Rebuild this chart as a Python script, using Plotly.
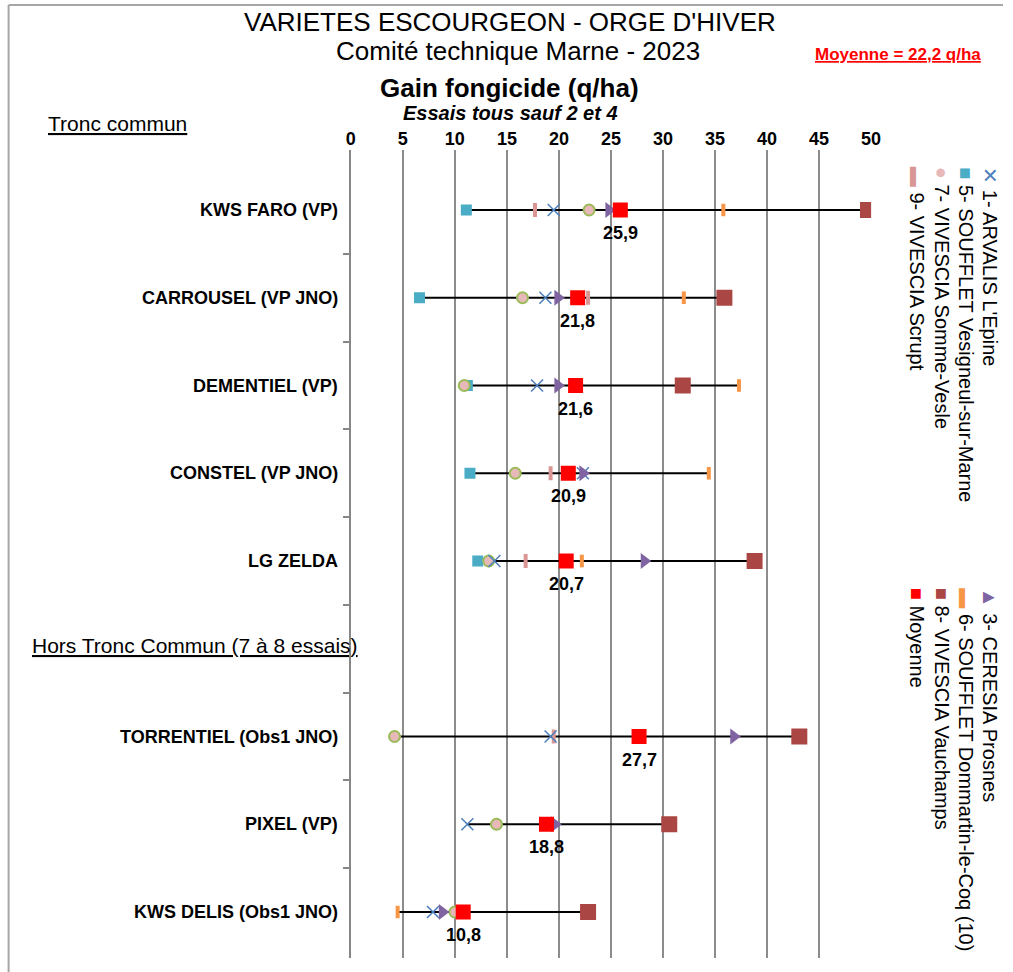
import plotly.graph_objects as go

# ---------------- data ----------------
categories = ["KWS FARO (VP)", "CARROUSEL (VP JNO)", "DEMENTIEL (VP)", "CONSTEL (VP JNO)",
              "LG ZELDA", "", "TORRENTIEL (Obs1 JNO)", "PIXEL (VP)", "KWS DELIS (Obs1 JNO)"]

arvalis_epine = [19.5, 18.7, 17.9, 22.3, 13.8, None, 19.2, 11.2, 7.9]
ceresia_prosnes = [24.8, 19.9, 19.9, 22.3, 28.2, None, 36.8, 19.6, 8.8]
soufflet_vesigneul = [11.1, 6.6, 11.2, 11.45, 12.2, None, None, None, None]
soufflet_dommartin = [35.8, 32.0, 37.3, 34.4, 22.2, None, None, None, 4.5]
vivescia_somme_vesle = [22.9, 16.5, 10.9, 15.8, 13.25, None, 4.2, 14.0, 10.0]
vivescia_vauchamps = [49.7, 35.9, 31.9, None, 38.8, None, 43.1, 30.6, 22.8]
vivescia_scrupt = [17.7, 22.8, 22.0, 19.2, 16.8, None, 19.5, None, 10.4]
moyenne = [25.9, 21.8, 21.6, 20.9, 20.7, None, 27.7, 18.8, 10.8]

x_ticks = [0, 5, 10, 15, 20, 25, 30, 35, 40, 45, 50]

names = {
    "a": "1- ARVALIS L'Epine",
    "c": "3- CERESIA Prosnes",
    "sv": "5- SOUFFLET Vesigneul-sur-Marne",
    "sd": "6- SOUFFLET Dommartin-le-Coq (10)",
    "vs": "7- VIVESCIA Somme-Vesle",
    "vv": "8- VIVESCIA Vauchamps",
    "vsc": "9- VIVESCIA Scrupt",
    "m": "Moyenne",
}

# ---------------- layout helpers ----------------
W, H = 1013, 972
XS, XO = 0.9846, 4.4  # empirical horizontal correction of the rendering
def px(x):
    return ((x - XO) / XS) / W
def py(y):
    return 1 - y / H

FONT = "Liberation Sans, Arial, sans-serif"
BLUE = "#4F81BD"
PURPLE = "#8064A2"
TEAL = "#4BACC6"
ORANGE = "#F79646"
GREEN = "#9BBB59"
PINKFILL = "#E6B9B8"
BROWN = "#AA4643"
PINK = "#D99694"
RED = "#FF0000"

ys = list(range(len(categories)))

fig = go.Figure()

# range lines (min to max of each row)
lx, ly = [], []
all_series = [arvalis_epine, ceresia_prosnes, soufflet_vesigneul, soufflet_dommartin,
              vivescia_somme_vesle, vivescia_vauchamps, vivescia_scrupt, moyenne]
for i in ys:
    vals = [s[i] for s in all_series if s[i] is not None]
    if vals:
        lx += [min(vals), max(vals), None]
        ly += [i, i, None]
fig.add_trace(go.Scatter(x=lx, y=ly, mode="lines", line=dict(color="black", width=1.8),
                         showlegend=False, hoverinfo="skip"))

def add(vals, name, marker):
    fig.add_trace(go.Scatter(x=vals, y=ys, mode="markers", name=name, marker=marker,
                             showlegend=False))

add(soufflet_vesigneul, names["sv"], dict(symbol="square", size=11, color=TEAL))
add(soufflet_dommartin, names["sd"], dict(symbol="line-ns", size=9, line=dict(color=ORANGE, width=4)))
add(vivescia_scrupt, names["vsc"], dict(symbol="line-ns", size=10, line=dict(color=PINK, width=4)))
add(vivescia_somme_vesle, names["vs"], dict(symbol="circle", size=11, color=PINKFILL,
                                             line=dict(color=GREEN, width=2)))
add(arvalis_epine, names["a"], dict(symbol="x-thin", size=12, line=dict(color=BLUE, width=1.6)))
add(ceresia_prosnes, names["c"], dict(symbol="triangle-right", size=14, color=PURPLE))
add(vivescia_vauchamps, names["vv"], dict(symbol="square", size=16, color=BROWN))
add(moyenne, names["m"], dict(symbol="square", size=15, color=RED))

annotations = []
# category labels
for i, c in enumerate(categories):
    if c:
        annotations.append(dict(x=px(339), xref="paper", y=i, yref="y", text="<b>%s</b>" % c,
                                xanchor="right", yanchor="middle", showarrow=False,
                                font=dict(family=FONT, size=18, color="black")))
# mean labels
for i, v in enumerate(moyenne):
    if v is not None:
        annotations.append(dict(x=v, xref="x", y=i, yref="y", yshift=-23,
                                text="<b>%s</b>" % ("%.1f" % v).replace(".", ","),
                                showarrow=False, font=dict(family=FONT, size=18, color="black")))

def txt(x, y, text, size, color="black", xanchor="center", **kw):
    annotations.append(dict(x=px(x), y=py(y), xref="paper", yref="paper", text=text,
                            showarrow=False, xanchor=xanchor, yanchor="middle",
                            font=dict(family=FONT, size=size, color=color), **kw))

txt(509, 22, "VARIETES ESCOURGEON - ORGE D'HIVER", 26)
txt(517, 51, "Comité technique Marne - 2023", 26)
txt(897, 55, "<b><u>Moyenne = 22,2 q/ha</u></b>", 17, color=RED)
txt(509, 88, "<b>Gain fongicide (q/ha)</b>", 26)
txt(510, 113, "<b><i>Essais tous sauf 2 et 4</i></b>", 20)
txt(117, 124, "<u>Tronc commun</u>", 21)
txt(194, 645, "<u>Hors Tronc Commun (7 à 8 essais)</u>", 21)

# rotated legend
def leg(x, ytop, glyph, gcolor, label):
    annotations.append(dict(x=px(x), y=py(ytop), xref="paper", yref="paper",
                            text="<span style='color:%s'>%s</span> %s" % (gcolor, glyph, label),
                            textangle=90, xanchor="center", yanchor="top", showarrow=False,
                            font=dict(family=FONT, size=20, color="black")))

cols = [989, 965, 941, 916]
leg(cols[0], 165, "✕", BLUE, names["a"])
leg(cols[1], 165, "■", TEAL, names["sv"])
leg(cols[2], 165, "●", PINKFILL, names["vs"])
leg(cols[3], 165, "▬", PINK, names["vsc"])
leg(cols[0], 586, "▲", PURPLE, names["c"])
leg(cols[1], 586, "▬", ORANGE, names["sd"])
leg(cols[2], 586, "■", BROWN, names["vv"])
leg(cols[3], 586, "■", RED, names["m"])

shapes = [
    dict(type="line", xref="paper", yref="paper", x0=px(8), x1=1, y0=py(5), y1=py(5),
         line=dict(color="#A6A6A6", width=2)),
    dict(type="line", xref="paper", yref="paper", x0=px(8), x1=px(8), y0=py(5), y1=0,
         line=dict(color="#A6A6A6", width=2)),
]

top_px, bot_px = 150, 958
row0, pitch = 210, 87.75
fig.update_layout(
    width=W, height=H,
    margin=dict(l=0, r=0, t=0, b=0),
    paper_bgcolor="white", plot_bgcolor="white",
    showlegend=False,
    xaxis=dict(domain=[px(350), px(870)], side="top", range=[0, 50], tickvals=x_ticks,
               tickfont=dict(family=FONT, size=18, color="black", weight="bold"),
               showgrid=True, gridcolor="#8C8C8C", gridwidth=2, zeroline=False,
               showline=False, ticks=""),
    yaxis=dict(domain=[py(bot_px), py(top_px)],
               range=[(bot_px - row0) / pitch, (top_px - row0) / pitch],
               tickvals=[i + 0.5 for i in ys[:-1]], showticklabels=False,
               ticks="outside", ticklen=6, tickcolor="#868686", tickwidth=1.5,
               showline=True, linecolor="#868686", linewidth=2,
               showgrid=False, zeroline=False),
    annotations=annotations,
    shapes=shapes,
)

fig.write_html("out.html", config={"displayModeBar": False},
               post_script="document.body.style.margin='0';document.body.style.overflow='hidden';")
